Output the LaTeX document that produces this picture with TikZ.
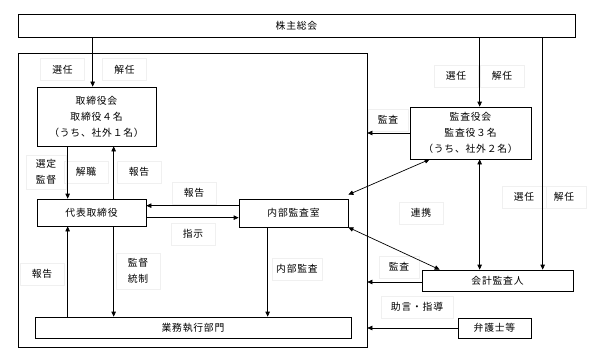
\documentclass[tikz,border=0pt]{standalone}
\usepackage{fontspec}
\setmainfont{Noto Sans CJK JP}[LetterSpace=8]
\usetikzlibrary{arrows.meta}
\usetikzlibrary{calc}

\begin{document}
\begin{tikzpicture}[
  x=1pt, y=-1pt,
  box/.style={draw, line width=0.7pt, inner sep=0pt, align=center, font=\fontsize{9.8}{16}\selectfont},
  lbl/.style={draw=black!6, line width=0.5pt, minimum width=44pt, minimum height=22pt, inner sep=0pt, align=center, font=\fontsize{9.8}{16}\selectfont},
  arrow/.style={-{Triangle[length=5pt,width=4.5pt]}, line width=0.7pt},
  both/.style={{Triangle[length=5pt,width=4.5pt]}-{Triangle[length=5pt,width=4.5pt]}, line width=0.7pt}
]
\useasboundingbox (0,0) rectangle (597,361);

% Nodes
\node[box, minimum width=557pt, minimum height=23pt] (gm) at (296.5,25.5) {株主総会};
\node[box, minimum width=349pt, minimum height=294pt] (frame) at (192.5,200) {};
\node[box, minimum width=119pt, minimum height=59pt] (bod) at (96.5,116.5) {取締役会\\取締役４名\\（うち、社外１名）};
\node[box, minimum width=109pt, minimum height=27pt] (ceo) at (91.5,212.5) {代表取締役};
\node[box, minimum width=109pt, minimum height=28pt] (ia) at (293.5,213) {内部監査室};
\node[box, minimum width=316pt, minimum height=21pt] (ops) at (193,327.5) {業務執行部門};
\node[box, minimum width=121pt, minimum height=52pt] (kb) at (470.5,133) {監査役会\\監査役３名\\（うち、社外２名）};
\node[box, minimum width=151pt, minimum height=21pt] (ext) at (497.5,280.5) {会計監査人};
\node[box, minimum width=73pt, minimum height=20pt] (law) at (494.5,328) {弁護士等};

% Labels
\node[lbl] (l1) at (62.5,69.5) {選任};
\node[lbl] (l2) at (124.5,69.5) {解任};
\node[lbl, minimum height=34pt, minimum width=40pt] (l3) at (46,172) {選定\\監督};
\node[lbl] (l4) at (86,172) {解職};
\node[lbl] (l5) at (139,172) {報告};
\node[lbl] (l6) at (194,193) {報告};
\node[lbl] (l7) at (193,234) {指示};
\node[lbl, minimum height=36pt] (l8) at (138,271) {監督\\統制};
\node[lbl, minimum width=50pt] (l9) at (297,269) {内部監査};
\node[lbl] (l10) at (42,274) {報告};
\node[lbl] (l11) at (456,76) {選任};
\node[lbl] (l12) at (502,76) {解任};
\node[lbl, minimum width=40pt] (l13) at (388,120) {監査};
\node[lbl] (l14) at (421,213) {連携};
\node[lbl] (l15) at (524,197) {選任};
\node[lbl] (l16) at (564,197) {解任};
\node[lbl, minimum width=40pt] (l17) at (399,267) {監査};
\node[lbl, minimum width=72pt] (l18) at (417,307) {助言・指導};

% Arrows inside the company
\draw[arrow] ([xshift=75pt]gm.south west) -- ([xshift=56pt]bod.north west);
\draw[arrow] ([xshift=31pt]bod.south west) -- ([xshift=31pt]ceo.north west);
\draw[arrow] ([xshift=77pt]ceo.north west) -- ([xshift=77pt]bod.south west);
\draw[arrow] ([yshift=-7pt]ia.north west) -- ([yshift=-7pt]ceo.north east);
\draw[arrow] ([yshift=-19pt]ceo.north east) -- ([yshift=-19pt]ia.north west);
\draw[arrow] ([xshift=77pt]ceo.south west) -- ([xshift=79pt]ops.north west);
\draw[arrow] ([xshift=33pt]ops.north west) -- ([xshift=31pt]ceo.south west);
\draw[arrow] ([xshift=29pt]ia.south west) -- ([xshift=233pt]ops.north west);

% Auditors and outside parties
\draw[arrow] ([xshift=462pt]gm.south west) -- ([xshift=70pt]kb.north west);
\draw[arrow] (kb.west) -- (kb.west -| frame.east);
\draw[both] ([xshift=20pt]kb.south west) -- ([yshift=4pt]ia.north east);
\draw[both] ([xshift=70pt]kb.south west) -- ([xshift=58pt]ext.north west);
\draw[arrow] ([xshift=525pt]gm.south west) -- ([xshift=121pt]ext.north west);
\draw[both] (ia.south east) -- ([xshift=18pt]ext.north west);
\draw[arrow] ([yshift=-1.5pt]ext.west) -- ([yshift=-1.5pt]ext.west -| frame.east);
\draw[arrow] (law.west) -- (law.west -| frame.east);

\end{tikzpicture}
\end{document}
